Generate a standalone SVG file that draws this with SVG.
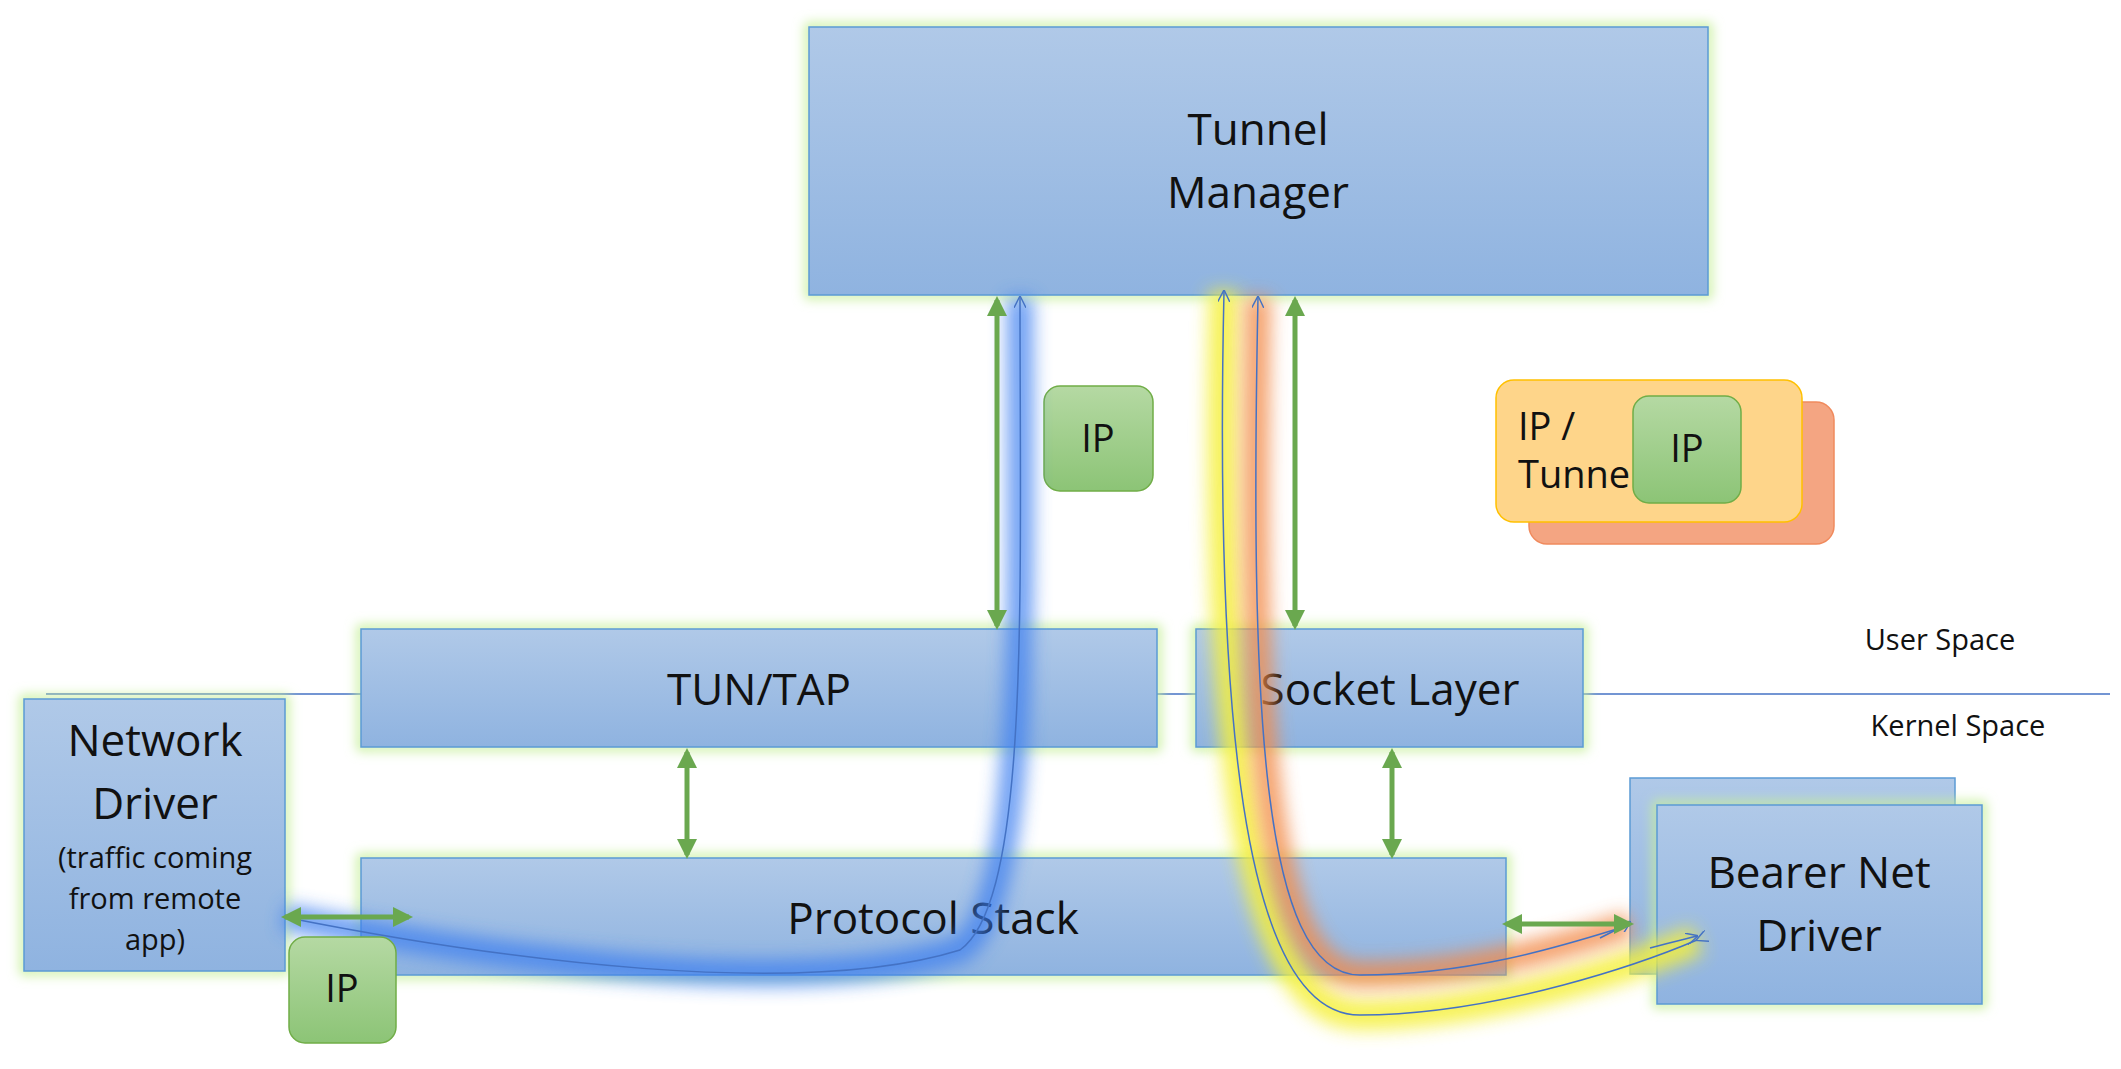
<svg xmlns="http://www.w3.org/2000/svg" width="2121" height="1069" viewBox="0 0 2121 1069">
<defs>
<linearGradient id="bg" x1="0" y1="0" x2="0" y2="1"><stop offset="0" stop-color="#b0c9e8"/><stop offset="1" stop-color="#8fb3e0"/></linearGradient>
<linearGradient id="gg" x1="0" y1="0" x2="0" y2="1"><stop offset="0" stop-color="#b5d9a3"/><stop offset="1" stop-color="#8cc476"/></linearGradient>
<filter id="glow" x="-20%" y="-20%" width="140%" height="140%"><feGaussianBlur stdDeviation="6"/></filter>
<filter id="blur" x="-20%" y="-20%" width="140%" height="140%"><feGaussianBlur stdDeviation="9"/></filter>
<marker id="ga" viewBox="0 0 10 10" refX="8" refY="5" markerWidth="4" markerHeight="4" orient="auto-start-reverse"><path d="M0,0 L10,5 L0,10 z" fill="#6aa84f"/></marker>
<marker id="ba" viewBox="0 0 10 10" refX="9" refY="5" markerWidth="8" markerHeight="8" orient="auto"><path d="M0,0 L10,5 L0,10" fill="none" stroke="#4472c4" stroke-width="1.2"/></marker>
</defs>
<style>
.box{fill:url(#bg);stroke:#5b9bd5;stroke-width:1.5}
.halo{fill:none;stroke:#c6ef9a;stroke-width:8;filter:url(#glow)}
.ip{fill:url(#gg);stroke:#70ad47;stroke-width:1.5}
.t{font-family:"Open Sans","Liberation Sans",sans-serif;fill:#111;text-anchor:middle}
.big{font-size:44px}.mid{font-size:38px}.sm{font-size:29px}
.g{stroke:#6aa84f;stroke-width:5;marker-start:url(#ga);marker-end:url(#ga);fill:none}
.thin{fill:none;stroke:#4472c4;stroke-width:1.5;marker-end:url(#ba)}
</style>
<rect width="2121" height="1069" fill="#fff"/>
<line x1="46" y1="694" x2="2110" y2="694" stroke="#4472c4" stroke-width="1.5"/>
<g id="tunnel-manager"><rect class="halo" x="809" y="27" width="899" height="268"/><rect class="box" x="809" y="27" width="899" height="268"/><text class="t big" x="1258" y="145">Tunnel</text><text class="t big" x="1258" y="208">Manager</text></g>
<g id="tuntap"><rect class="halo" x="361" y="629" width="796" height="118"/><rect class="box" x="361" y="629" width="796" height="118"/><text class="t big" x="759" y="705">TUN/TAP</text></g>
<g id="socket"><rect class="halo" x="1196" y="629" width="387" height="118"/><rect class="box" x="1196" y="629" width="387" height="118"/><text class="t big" x="1390" y="705">Socket Layer</text></g>
<g id="netdriver"><rect class="halo" x="24" y="699" width="261" height="272"/><rect class="box" x="24" y="699" width="261" height="272"/><text class="t big" x="155" y="756">Network</text><text class="t big" x="155" y="819">Driver</text><text class="t sm" x="155" y="868">(traffic coming</text><text class="t sm" x="155" y="909">from remote</text><text class="t sm" x="155" y="950">app)</text></g>
<g id="protocol"><rect class="halo" x="361" y="858" width="1145" height="117"/><rect class="box" x="361" y="858" width="1145" height="117"/><text class="t big" x="933" y="934">Protocol Stack</text></g>
<g id="bearer"><rect class="box" x="1630" y="778" width="325" height="196"/><rect class="halo" x="1657" y="805" width="325" height="199"/><rect class="box" x="1657" y="805" width="325" height="199"/><text class="t big" x="1819" y="888">Bearer Net</text><text class="t big" x="1819" y="951">Driver</text></g>
<g id="legend"><rect x="1529" y="402" width="305" height="142" rx="18" fill="#f4a582" stroke="#f08a5d" stroke-width="1.5"/><rect x="1496" y="380" width="306" height="142" rx="18" fill="#fed58a" stroke="#ffc000" stroke-width="1.5"/><text class="t mid" x="1518" y="440" text-anchor="start" style="text-anchor:start">IP /</text><text class="t mid" x="1518" y="488" style="text-anchor:start">Tunnel</text><rect class="ip" x="1633" y="396" width="108" height="107" rx="16"/><text class="t mid" x="1687" y="462">IP</text></g>
<g id="ip1"><rect class="ip" x="1044" y="386" width="109" height="105" rx="16"/><text class="t mid" x="1098" y="452">IP</text></g>
<g id="connectors">
<path d="M284,917 C500,960 800,1000 960,950 C1030,900 1020,600 1020,297" fill="none" stroke="#3c7ff0" stroke-width="26" opacity="0.75" filter="url(#blur)"/>
<path d="M1224,291 C1215,700 1240,1015 1360,1015 C1500,1015 1650,960 1697,940" fill="none" stroke="#f5f03a" stroke-width="30" opacity="0.85" filter="url(#blur)"/>
<path d="M1258,297 C1250,700 1260,975 1360,975 C1480,975 1580,940 1630,925" fill="none" stroke="#f28a4a" stroke-width="26" opacity="0.8" filter="url(#blur)"/>
<path class="thin" d="M284,917 C500,960 800,1000 960,950 C1030,900 1020,600 1020,297"/>
<path class="thin" d="M1224,1015 C1215,700 1240,1015 1224,291" style="display:none"/>
<path class="thin" d="M1697,940 C1650,960 1500,1015 1360,1015 C1240,1015 1215,700 1224,291" style="marker-start:url(#ba)"/>
<path class="thin" d="M1630,925 C1580,940 1480,975 1360,975 C1260,975 1250,700 1258,297"/>
<path class="thin" d="M1600,938 C1620,928 1625,925 1630,922" />
<path class="thin" d="M1650,948 C1680,940 1690,938 1697,936" />
<line class="g" x1="997" y1="300" x2="997" y2="626"/>
<line class="g" x1="1295" y1="300" x2="1295" y2="626"/>
<line class="g" x1="687" y1="752" x2="687" y2="855"/>
<line class="g" x1="1392" y1="752" x2="1392" y2="855"/>
<line class="g" x1="285" y1="917" x2="409" y2="917"/>
<line class="g" x1="1506" y1="924" x2="1630" y2="924"/>
</g>
<g id="ip2"><rect class="ip" x="289" y="937" width="107" height="106" rx="16"/><text class="t mid" x="342" y="1002">IP</text></g>
<text class="t sm" x="1940" y="650">User Space</text>
<text class="t sm" x="1958" y="736">Kernel  Space</text>
</svg>
